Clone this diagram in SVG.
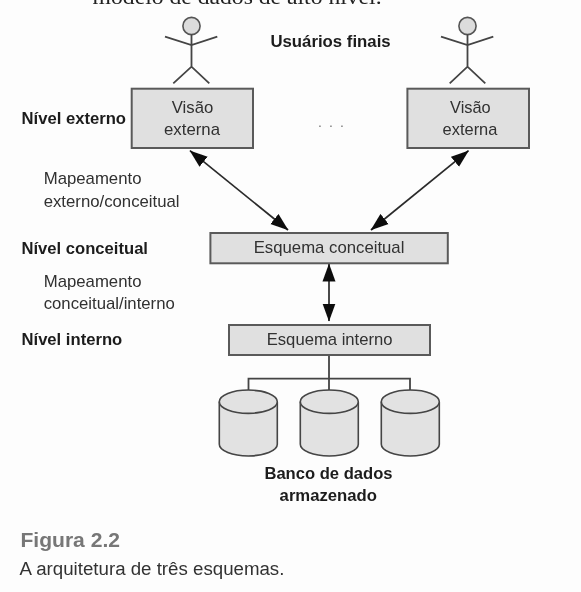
<svg xmlns="http://www.w3.org/2000/svg" width="581" height="592" viewBox="0 0 581 592">
<defs>
<style>
text{font-family:"Liberation Sans",Arial,sans-serif;font-size:17px;fill:#303030}
.b{font-weight:bold;font-size:16.5px;fill:#1c1c1c}
.box{fill:#e0e0e0;stroke:#5a5a5a;stroke-width:2}
.ln{fill:none;stroke:#444;stroke-width:1.8}
.conn{fill:none;stroke:#2a2a2a;stroke-width:1.7}
.head{fill:#dcdcdc;stroke:#555;stroke-width:1.6}
.cyl{fill:#e2e2e2;stroke:#444;stroke-width:1.6}
</style>
<marker id="ah" viewBox="0 0 18 14" refX="17.5" refY="7" markerWidth="18" markerHeight="14" markerUnits="userSpaceOnUse" orient="auto-start-reverse"><path d="M0,0.5L18,7L0,13.5z" fill="#111"/></marker>
<filter id="soft" filterUnits="userSpaceOnUse" x="0" y="0" width="581" height="592"><feGaussianBlur stdDeviation="0.45"/></filter>
</defs>
<rect width="581" height="592" fill="#fdfdfd"/>
<g filter="url(#soft)">
<text x="92.6" y="4" textLength="289" lengthAdjust="spacingAndGlyphs" style="font-family:'Liberation Serif',serif;font-size:20px;fill:#222">modelo de dados de alto nível.</text>
<g id="connectors">
<path class="conn" d="M190,150.7L288,230" marker-start="url(#ah)" marker-end="url(#ah)"/>
<path class="conn" d="M468.5,150.7L371,230" marker-start="url(#ah)" marker-end="url(#ah)"/>
<path class="conn" d="M329,264V321" marker-start="url(#ah)" marker-end="url(#ah)"/>
<path class="ln" d="M329,355V390M248.5,390V378.7H410V390"/>
</g>
<g id="user1"><circle class="head" cx="191.5" cy="26" r="8.6"/><path class="ln" d="M191.5,34.6V66.7M165,36.7L191.5,45L217.3,36.7M173.3,83.3L191.5,66.7L209.3,83.3"/></g>
<g id="user2"><circle class="head" cx="467.5" cy="26" r="8.6"/><path class="ln" d="M467.5,34.6V66.7M441,36.7L467.5,45L493.3,36.7M449.7,83.3L467.5,66.7L485.3,83.3"/></g>
<g id="label-usuarios"><text class="b" x="270.4" y="46.5" textLength="120.3" lengthAdjust="spacingAndGlyphs">Usuários finais</text></g>
<g id="label-externo"><text class="b" x="21.5" y="123.5" textLength="104.5" lengthAdjust="spacingAndGlyphs">Nível externo</text></g>
<g id="visao1"><rect class="box" x="131.7" y="88.7" width="121.3" height="59.3"/>
<text x="171.7" y="112.5" textLength="41.6" lengthAdjust="spacingAndGlyphs">Visão</text>
<text x="164" y="135" textLength="56" lengthAdjust="spacingAndGlyphs">externa</text></g>
<g id="dots"><text x="318" y="127" textLength="26" style="fill:#777;font-size:14px">. . .</text></g>
<g id="visao2"><rect class="box" x="407.4" y="88.7" width="121.6" height="59.3"/>
<text x="450" y="112.5" textLength="40.7" lengthAdjust="spacingAndGlyphs">Visão</text>
<text x="442.6" y="135" textLength="54.8" lengthAdjust="spacingAndGlyphs">externa</text></g>
<g id="map1"><text x="43.7" y="184" textLength="97.8" lengthAdjust="spacingAndGlyphs">Mapeamento</text>
<text x="43.7" y="206.5" textLength="135.9" lengthAdjust="spacingAndGlyphs">externo/conceitual</text></g>
<g id="label-conceitual"><text class="b" x="21.5" y="253.5" textLength="126.5" lengthAdjust="spacingAndGlyphs">Nível conceitual</text></g>
<g id="esquema-conceitual"><rect class="box" x="210.4" y="233" width="237.4" height="30.3"/>
<text x="253.7" y="253" textLength="150.7" lengthAdjust="spacingAndGlyphs">Esquema conceitual</text></g>
<g id="map2"><text x="43.7" y="286.5" textLength="97.8" lengthAdjust="spacingAndGlyphs">Mapeamento</text>
<text x="43.7" y="309" textLength="131.1" lengthAdjust="spacingAndGlyphs">conceitual/interno</text></g>
<g id="label-interno"><text class="b" x="21.5" y="345" textLength="100.7" lengthAdjust="spacingAndGlyphs">Nível interno</text></g>
<g id="esquema-interno"><rect class="box" x="229" y="325" width="201" height="30"/>
<text x="266.7" y="345" textLength="125.9" lengthAdjust="spacingAndGlyphs">Esquema interno</text></g>
<g id="db1"><path class="cyl" d="M219.3,401.7V444.3A29,11.7 0 0 0 277.3,444.3V401.7"/><ellipse class="cyl" cx="248.3" cy="401.7" rx="29" ry="11.7"/></g>
<g id="db2"><path class="cyl" d="M300.3,401.7V444.3A29,11.7 0 0 0 358.3,444.3V401.7"/><ellipse class="cyl" cx="329.3" cy="401.7" rx="29" ry="11.7"/></g>
<g id="db3"><path class="cyl" d="M381.3,401.7V444.3A29,11.7 0 0 0 439.3,444.3V401.7"/><ellipse class="cyl" cx="410.3" cy="401.7" rx="29" ry="11.7"/></g>
<g id="label-banco"><text class="b" x="264.4" y="478.5" textLength="128.2" lengthAdjust="spacingAndGlyphs">Banco de dados</text>
<text class="b" x="279.6" y="501" textLength="97.4" lengthAdjust="spacingAndGlyphs">armazenado</text></g>
<g id="caption"><text x="20.4" y="546.5" textLength="99.6" lengthAdjust="spacingAndGlyphs" style="font-size:20px;fill:#777;font-weight:bold">Figura 2.2</text>
<text x="19.6" y="575" textLength="264.8" lengthAdjust="spacingAndGlyphs" style="font-size:18px;fill:#333">A arquitetura de três esquemas.</text></g>
</g>
</svg>
